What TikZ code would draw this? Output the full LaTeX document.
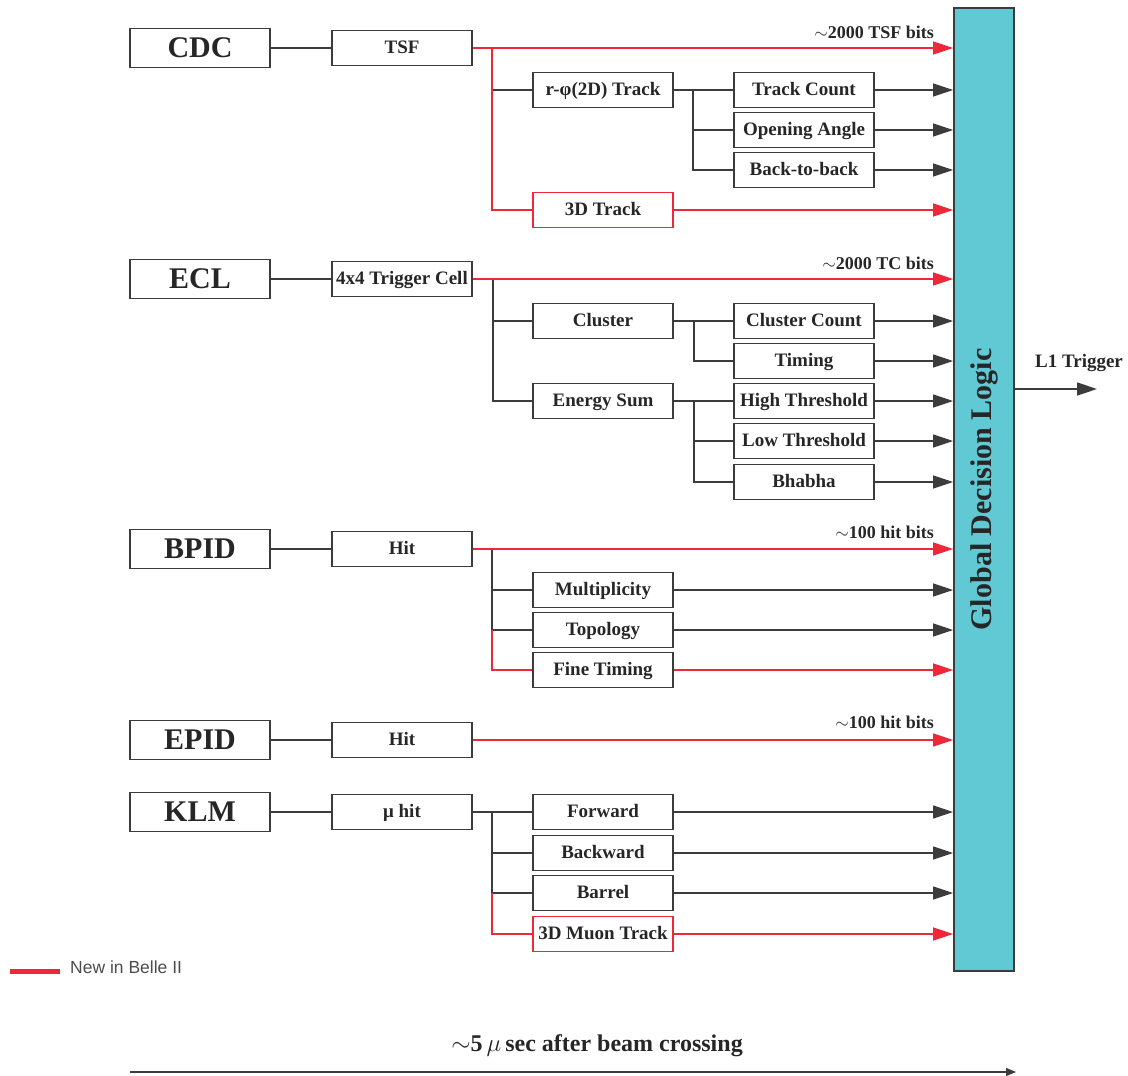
\documentclass[tikz,border=0pt]{standalone}
\usepackage{fontspec}
\setmainfont{Liberation Serif}
\newfontfamily\legendfont{Liberation Sans}
\usetikzlibrary{arrows.meta}
\definecolor{newred}{RGB}{238,40,56}
\definecolor{gdlcyan}{RGB}{96,201,211}
\definecolor{boxgray}{RGB}{60,60,60}
\begin{document}
\begin{tikzpicture}[x=1pt,y=-1pt,
 mainbox/.style={draw=boxgray, line width=1.9pt, minimum width=140pt, minimum height=39pt, inner sep=0pt, font=\fontsize{30}{32}\selectfont\bfseries, text=black!85},
 subbox/.style={draw=boxgray, line width=1.7pt, minimum width=140pt, minimum height=35pt, inner sep=0pt, text height=13pt, text depth=3pt, font=\fontsize{19}{21}\selectfont\bfseries, text=black!85},
 newbox/.style={subbox, draw=newred},
 bl/.style={draw=boxgray, line width=1.4pt},
 rl/.style={draw=newred, line width=1.4pt},
 tip/.style={-{Triangle[length=20pt,width=13pt]}},
 lab/.style={font=\fontsize{18}{20}\selectfont\bfseries, anchor=base east, text=black!85, inner sep=0pt}
]
\useasboundingbox (0,0) rectangle (1128,1076);

% Global decision logic
\node[draw=boxgray, line width=1.9pt, fill=gdlcyan, rotate=90, minimum width=963pt, minimum height=60pt, inner sep=0pt, font=\fontsize{30}{32}\selectfont\bfseries, text=black!85] (gdl) at (984,489.5) {Global Decision Logic};

% CDC
\node[mainbox] (cdc) at (200,48) {CDC};
\node[subbox] (tsf) at (402,48) {TSF};
\node[subbox] (rphi) at (603,90) {r-φ(2D) Track};
\node[subbox] (tcount) at (804,90) {Track Count};
\node[subbox] (oangle) at (804,130) {Opening Angle};
\node[subbox] (b2b) at (804,170) {Back-to-back};
\node[newbox] (trk3d) at (603,210) {3D Track};
\node[lab] (tsfbits) at (934,38) {$\sim$2000 TSF bits};

% ECL
\node[mainbox] (ecl) at (200,279) {ECL};
\node[subbox] (tcell) at (402,279) {4x4 Trigger Cell};
\node[subbox] (cluster) at (603,321) {Cluster};
\node[subbox] (esum) at (603,401) {Energy Sum};
\node[subbox] (ccount) at (804,321) {Cluster Count};
\node[subbox] (timing) at (804,361) {Timing};
\node[subbox] (hith) at (804,401) {High Threshold};
\node[subbox] (lowth) at (804,441) {Low Threshold};
\node[subbox] (bhabha) at (804,482) {Bhabha};
\node[lab] (tcbits) at (934,269) {$\sim$2000 TC bits};

% BPID
\node[mainbox] (bpid) at (200,549) {BPID};
\node[subbox] (bhit) at (402,549) {Hit};
\node[subbox] (mult) at (603,590) {Multiplicity};
\node[subbox] (topo) at (603,630) {Topology};
\node[subbox] (fine) at (603,670) {Fine Timing};
\node[lab] (bbits) at (934,538) {$\sim$100 hit bits};

% EPID
\node[mainbox] (epid) at (200,740) {EPID};
\node[subbox] (ehit) at (402,740) {Hit};
\node[lab] (ebits) at (934,728) {$\sim$100 hit bits};

% KLM
\node[mainbox] (klm) at (200,812) {KLM};
\node[subbox] (mhit) at (402,812) {μ hit};
\node[subbox] (fwd) at (603,812) {Forward};
\node[subbox] (bwd) at (603,853) {Backward};
\node[subbox] (barrel) at (603,893) {Barrel};
\node[newbox] (muon3d) at (603,934) {3D Muon Track};

% CDC connectors
\draw[bl] (cdc) -- (tsf);
\coordinate (c1) at (492,48);
\draw[bl] (c1 |- rphi) -- (rphi.west);
\draw[rl] (c1) |- (trk3d.west);
\coordinate (c2) at (693,90);
\draw[bl] (rphi.east) -- (tcount.west);
\draw[bl] (c2) |- (b2b.west);
\draw[bl] (c2 |- oangle) -- (oangle.west);
\draw[rl, tip] (tsf.east) -- (tsf.east -| gdl.north);
\draw[bl, tip] (tcount.east) -- (tcount.east -| gdl.north);
\draw[bl, tip] (oangle.east) -- (oangle.east -| gdl.north);
\draw[bl, tip] (b2b.east) -- (b2b.east -| gdl.north);
\draw[rl, tip] (trk3d.east) -- (trk3d.east -| gdl.north);

% ECL connectors
\draw[bl] (ecl) -- (tcell);
\coordinate (e1) at (493,279);
\draw[bl] (e1) |- (esum.west);
\draw[bl] (e1 |- cluster) -- (cluster.west);
\coordinate (e2) at (694,321);
\draw[bl] (cluster.east) -- (ccount.west);
\draw[bl] (e2) |- (timing.west);
\coordinate (e3) at (694,401);
\draw[bl] (esum.east) -- (hith.west);
\draw[bl] (e3) |- (bhabha.west);
\draw[bl] (e3 |- lowth) -- (lowth.west);
\draw[rl, tip] (tcell.east) -- (tcell.east -| gdl.north);
\draw[bl, tip] (ccount.east) -- (ccount.east -| gdl.north);
\draw[bl, tip] (timing.east) -- (timing.east -| gdl.north);
\draw[bl, tip] (hith.east) -- (hith.east -| gdl.north);
\draw[bl, tip] (lowth.east) -- (lowth.east -| gdl.north);
\draw[bl, tip] (bhabha.east) -- (bhabha.east -| gdl.north);

% BPID connectors
\draw[bl] (bpid) -- (bhit);
\coordinate (p1) at (492,549);
\draw[bl] (p1) -- (p1 |- topo) -- (topo.west);
\draw[bl] (p1 |- mult) -- (mult.west);
\draw[rl] (p1 |- topo) |- (fine.west);
\draw[rl, tip] (bhit.east) -- (bhit.east -| gdl.north);
\draw[bl, tip] (mult.east) -- (mult.east -| gdl.north);
\draw[bl, tip] (topo.east) -- (topo.east -| gdl.north);
\draw[rl, tip] (fine.east) -- (fine.east -| gdl.north);

% EPID connectors
\draw[bl] (epid) -- (ehit);
\draw[rl, tip] (ehit.east) -- (ehit.east -| gdl.north);

% KLM connectors
\draw[bl] (klm) -- (mhit);
\coordinate (k1) at (492,812);
\draw[bl] (mhit.east) -- (fwd.west);
\draw[bl] (k1) -- (k1 |- barrel) -- (barrel.west);
\draw[bl] (k1 |- bwd) -- (bwd.west);
\draw[rl] (k1 |- barrel) |- (muon3d.west);
\draw[bl, tip] (fwd.east) -- (fwd.east -| gdl.north);
\draw[bl, tip] (bwd.east) -- (bwd.east -| gdl.north);
\draw[bl, tip] (barrel.east) -- (barrel.east -| gdl.north);
\draw[rl, tip] (muon3d.east) -- (muon3d.east -| gdl.north);

% L1 trigger output
\coordinate (l1end) at (1097,389);
\draw[bl, tip] (gdl.south |- l1end) -- (l1end);
\node[font=\fontsize{19}{21}\selectfont\bfseries, text=black!85, inner sep=0pt] (l1lab) at (1079,363) {L1 Trigger};

% legend
\coordinate (lg1) at (10,971);
\coordinate (lg2) at (60,971);
\draw[newred, line width=5pt] (lg1) -- (lg2);
\node[anchor=west, font=\legendfont\fontsize{17.5}{19}\selectfont, text=black!70, inner sep=0pt] (legend) at (70,967) {New in Belle II};

% time axis
\node[font=\fontsize{24}{26}\selectfont\bfseries, text=black!85, inner sep=0pt] (timelab) at (597,1046) {$\sim$5\,$\mu$\,sec after beam crossing};
\coordinate (ta) at (130,1072);
\coordinate (tb) at (1016,1072);
\draw[bl, -{Triangle[length=10pt,width=8pt]}] (ta) -- (tb);
\end{tikzpicture}
\end{document}
